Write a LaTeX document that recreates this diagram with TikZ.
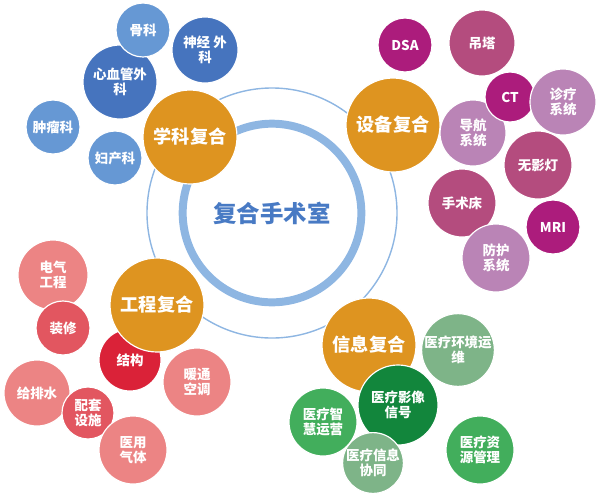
\documentclass[tikz,border=0pt]{standalone}
\usepackage{fontspec}
\usepackage{tikz}
\newfontfamily\cjk{Noto Sans CJK SC}
\definecolor{hor@orange}{RGB}{222, 148, 32}
\definecolor{hor@ring}{RGB}{142, 182, 226}
\definecolor{hor@title}{RGB}{72, 122, 196}
\definecolor{hor@blue}{RGB}{70, 116, 190}
\definecolor{hor@lightblue}{RGB}{102, 152, 212}
\definecolor{hor@magenta}{RGB}{172, 28, 124}
\definecolor{hor@rose}{RGB}{180, 76, 126}
\definecolor{hor@lilac}{RGB}{186, 132, 182}
\definecolor{hor@red}{RGB}{218, 34, 56}
\definecolor{hor@midred}{RGB}{226, 86, 96}
\definecolor{hor@lightred}{RGB}{236, 132, 132}
\definecolor{hor@darkgreen}{RGB}{18, 134, 60}
\definecolor{hor@green}{RGB}{66, 174, 92}
\definecolor{hor@sage}{RGB}{126, 180, 136}

\begin{document}
\begin{tikzpicture}[
  x=0.03cm, y=-0.03cm,
  bub/.style  = {circle, draw=white, line width=1pt, text=white, align=center,
                 inner sep=0pt, minimum size=#1*0.6mm,
                 font=\cjk\bfseries\fontsize{11.5}{13}\selectfont},
  hub/.style  = {circle, draw=white, line width=1pt, fill=hor@orange, text=white,
                 inner sep=0pt, minimum size=47*0.6mm,
                 font=\cjk\bfseries\fontsize{15.5}{18}\selectfont},
  ring/.style = {draw=hor@ring},
]
  \useasboundingbox (0,0) rectangle (600,499);

  % centre
  \node[font=\cjk\bfseries\fontsize{20}{24}\selectfont, text=hor@title] (room) at (272,213) {复合手术室};
  \draw[ring, line width=1.2pt] (room.center) circle[radius=3.75cm];
  \draw[ring, line width=6.8pt] (room.center) circle[radius=2.68cm];

  % discipline
  \node[bub=37, fill=hor@blue]      (cardio) at (120,82)  {心血管外\\科};
  \node[bub=27, fill=hor@lightblue] (ortho)  at (143,30)  {骨科};
  \node[bub=33, fill=hor@blue]      (neuro)  at (205,50)  {神经 外\\科};
  \node[bub=27, fill=hor@lightblue] (onco)   at (53,127)  {肿瘤科};
  \node[bub=27, fill=hor@lightblue] (gyn)    at (115,158) {妇产科};
  \node[hub] (disc) at (190,137) {学科复合};

  % equipment
  \node[bub=27, fill=hor@magenta] (dsa)   at (405,45)  {DSA};
  \node[bub=33, fill=hor@rose]    (tower) at (482,43)  {吊塔};
  \node[bub=33, fill=hor@lilac]   (nav)   at (473,133) {导航\\系统};
  \node[bub=25, fill=hor@magenta] (ct)    at (510,97)  {CT};
  \node[bub=33, fill=hor@lilac]   (diag)  at (563,102) {诊疗\\系统};
  \node[bub=34, fill=hor@rose]    (lamp)  at (538,165) {无影灯};
  \node[bub=34, fill=hor@rose]    (table) at (462,203) {手术床};
  \node[bub=27, fill=hor@magenta] (mri)   at (553,227) {MRI};
  \node[bub=34, fill=hor@lilac]   (shield) at (496,258) {防护\\系统};
  \node[hub] (equip) at (393,125) {设备复合};

  % engineering
  \node[bub=35, fill=hor@lightred] (elec)   at (53,275)  {电气\\工程};
  \node[bub=27, fill=hor@midred]   (decor)  at (63,328)  {装修};
  \node[bub=31, fill=hor@red]      (struct) at (130,360) {结构};
  \node[hub] (eng) at (157,305) {工程复合};
  \node[bub=34, fill=hor@lightred] (hvac)   at (197,382) {暖通\\空调};
  \node[bub=33, fill=hor@lightred] (water)  at (37,393)  {给排水};
  \node[bub=26, fill=hor@midred]   (supp)   at (88,413)  {配套\\设施};
  \node[bub=34, fill=hor@lightred] (gas)    at (133,450) {医用\\气体};

  % information
  \node[hub] (info) at (369,345) {信息复合};
  \node[bub=35, fill=hor@sage]      (envop)  at (458,350) {医疗环境运\\维};
  \node[bub=34, fill=hor@green]     (smart)  at (323,422) {医疗智\\慧运营};
  \node[bub=40, fill=hor@darkgreen] (image)  at (398,405) {医疗影像\\信号};
  \node[bub=29, fill=hor@sage]      (collab) at (373,463) {医疗信息\\协同};
  \node[bub=34, fill=hor@green]     (res)    at (480,450) {医疗资\\源管理};
\end{tikzpicture}
\end{document}
